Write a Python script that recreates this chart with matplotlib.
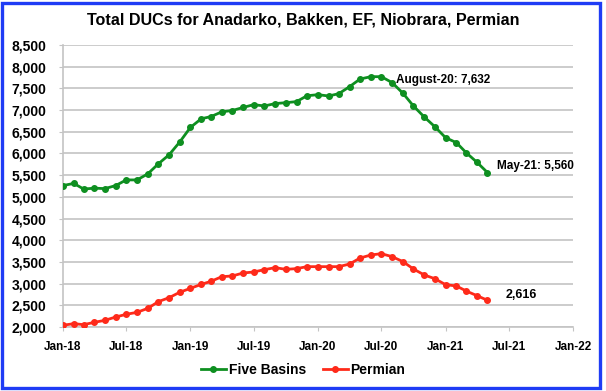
import matplotlib
matplotlib.use("Agg")
import matplotlib.pyplot as plt
import matplotlib.dates as mdates
from matplotlib.patches import Rectangle
from matplotlib.ticker import FuncFormatter
import pandas as pd

months = pd.date_range("2018-01-01", "2021-05-01", freq="MS")
five_basins = [5260, 5310, 5180, 5200, 5190, 5260, 5390, 5390, 5530, 5760, 5970, 6260,
               6600, 6800, 6850, 6960, 6990, 7060, 7125, 7095, 7150, 7170, 7195, 7330,
               7355, 7325, 7378, 7540, 7716, 7770, 7770, 7632, 7386, 7094, 6840, 6618,
               6364, 6249, 6018, 5796, 5560]
permian = [2040, 2077, 2054, 2108, 2154, 2230, 2292, 2338, 2430, 2584, 2676, 2799,
           2891, 2983, 3053, 3160, 3176, 3245, 3268, 3322, 3368, 3329, 3345, 3391,
           3391, 3391, 3391, 3452, 3590, 3660, 3690, 3621, 3506, 3337, 3199, 3114,
           2976, 2945, 2830, 2722, 2616]
title = "Total DUCs for Anadarko, Bakken, EF, Niobrara, Permian"

plt.rcParams['font.family'] = ['Liberation Sans', 'DejaVu Sans']
plt.rcParams['font.weight'] = 'bold'

fig = plt.figure(figsize=(6.06, 3.91), dpi=100)
ax = fig.add_axes([63/606, 1-327/391, (573-63)/606, (327-45)/391])

green = '#0e8f20'
red = '#fe2a1a'
ax.plot(months, five_basins, color=green, lw=2.0, marker='o', ms=4.0, label='Five Basins', zorder=3)
ax.plot(months, permian, color=red, lw=2.0, marker='o', ms=4.0, label='Permian', zorder=3)

ax.set_ylim(2000, 8500)
ax.set_yticks(range(2000, 8501, 500))
ax.yaxis.set_major_formatter(FuncFormatter(lambda v, p: f"{int(v):,}"))
ax.set_xlim(pd.Timestamp("2018-01-01"), pd.Timestamp("2022-01-01"))
ax.xaxis.set_major_locator(mdates.MonthLocator(bymonth=[1, 7]))
ax.xaxis.set_major_formatter(mdates.DateFormatter('%b-%y'))

ax.grid(axis='y', color='#c4c4c4', lw=1.2, zorder=0)
ax.set_axisbelow(True)
for s in ['top', 'right']:
    ax.spines[s].set_visible(False)
for s in ['left', 'bottom']:
    ax.spines[s].set_color('#c4c4c4')
    ax.spines[s].set_linewidth(1.2)
ax.tick_params(axis='y', colors='#c4c4c4', labelcolor='black', length=3, pad=9, labelsize=10)
ax.tick_params(axis='x', colors='#c4c4c4', labelcolor='black', length=3, pad=7, labelsize=8.5)
for lab in ax.get_xticklabels() + ax.get_yticklabels():
    lab.set_fontweight('bold')

ax.annotate(f"August-20: {five_basins[31]:,}", xy=(months[31], five_basins[31]),
            xytext=(4, 3), textcoords='offset pixels', fontsize=8.5, fontweight='bold',
            va='center', ha='left')
ax.annotate(f"May-21: {five_basins[-1]:,}", xy=(months[-1], five_basins[-1]),
            xytext=(10, 7), textcoords='offset pixels', fontsize=8.5, fontweight='bold',
            va='center', ha='left')
ax.annotate(f"{permian[-1]:,}", xy=(months[-1], permian[-1]),
            xytext=(18, 5), textcoords='offset pixels', fontsize=9, fontweight='bold',
            va='center', ha='left')

fig.text(303/606, 1-20/391, title, ha='center', va='center', fontsize=11.6, fontweight='bold')
fig.legend(loc='center', bbox_to_anchor=(303/606, 1-370/391), ncol=2, frameon=False,
           prop={'size': 10, 'weight': 'bold'}, handlelength=1.8, columnspacing=1.2,
           handletextpad=0.2)

fig.patches.append(Rectangle((2.5/606, 1-388/391), (600-2.5)/606, (388-2.5)/391,
                             transform=fig.transFigure, fill=False, edgecolor='#1f3cf5',
                             lw=2.4, zorder=10))

fig.savefig("out.png", dpi=100)
